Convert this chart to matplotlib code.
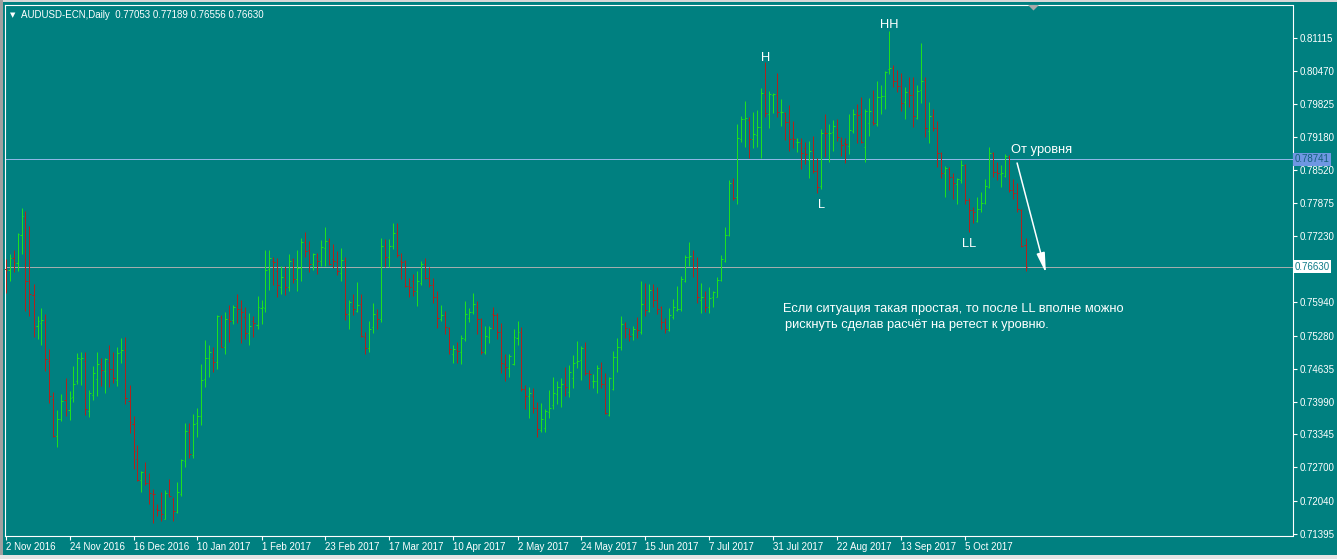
import numpy as np
import matplotlib
matplotlib.use("Agg")
import matplotlib.pyplot as plt
from matplotlib.collections import LineCollection
from matplotlib.patches import Polygon, Rectangle
import matplotlib.transforms as mtransforms

plt.rcParams['font.family'] = ['Liberation Sans', 'DejaVu Sans']

# AUDUSD-ECN daily bars, 2 Nov 2016 .. 27 Oct 2017
opens = [
    0.7658, 0.7657, 0.7680, 0.7670, 0.7725, 0.7758, 0.7635, 0.7608, 0.7547, 0.7552, 0.7554, 0.7478, 0.7404, 0.7331, 0.7364, 0.7402,
    0.7382, 0.7407, 0.7439, 0.7482, 0.7478, 0.7380, 0.7412, 0.7443, 0.7472, 0.7458, 0.7476, 0.7462, 0.7441, 0.7496, 0.7499, 0.7400,
    0.7355, 0.7286, 0.7245, 0.7260, 0.7239, 0.7218, 0.7188, 0.7186, 0.7169, 0.7218, 0.7208, 0.7182, 0.7217, 0.7282, 0.7339, 0.7294,
    0.7356, 0.7370, 0.7443, 0.7484, 0.7484, 0.7476, 0.7565, 0.7505, 0.7560, 0.7559, 0.7586, 0.7580, 0.7564, 0.7533, 0.7556, 0.7548,
    0.7582, 0.7582, 0.7658, 0.7674, 0.7654, 0.7623, 0.7644, 0.7623, 0.7678, 0.7639, 0.7660, 0.7712, 0.7696, 0.7668, 0.7682, 0.7674,
    0.7699, 0.7713, 0.7678, 0.7672, 0.7650, 0.7674, 0.7571, 0.7587, 0.7576, 0.7590, 0.7525, 0.7503, 0.7546, 0.7570, 0.7561, 0.7703,
    0.7682, 0.7704, 0.7729, 0.7674, 0.7674, 0.7625, 0.7635, 0.7615, 0.7631, 0.7669, 0.7641, 0.7627, 0.7603, 0.7560, 0.7566, 0.7544,
    0.7492, 0.7500, 0.7496, 0.7521, 0.7562, 0.7574, 0.7584, 0.7560, 0.7496, 0.7525, 0.7570, 0.7569, 0.7535, 0.7472, 0.7464, 0.7472,
    0.7523, 0.7535, 0.7423, 0.7410, 0.7410, 0.7386, 0.7343, 0.7348, 0.7378, 0.7392, 0.7413, 0.7427, 0.7433, 0.7417, 0.7445, 0.7476,
    0.7480, 0.7503, 0.7454, 0.7439, 0.7439, 0.7465, 0.7433, 0.7373, 0.7423, 0.7486, 0.7506, 0.7550, 0.7531, 0.7531, 0.7541, 0.7536,
    0.7590, 0.7576, 0.7618, 0.7598, 0.7584, 0.7554, 0.7539, 0.7564, 0.7579, 0.7581, 0.7635, 0.7682, 0.7679, 0.7660, 0.7598, 0.7602,
    0.7585, 0.7604, 0.7604, 0.7637, 0.7675, 0.7725, 0.7827, 0.7799, 0.7913, 0.7953, 0.7951, 0.7914, 0.7921, 0.7938, 0.8002, 0.7962,
    0.8000, 0.8000, 0.7966, 0.7964, 0.7946, 0.7916, 0.7907, 0.7905, 0.7895, 0.7872, 0.7892, 0.7850, 0.7821, 0.7926, 0.7925, 0.7927,
    0.7933, 0.7910, 0.7905, 0.7900, 0.7929, 0.7963, 0.7963, 0.7898, 0.7944, 0.7947, 0.7942, 0.7995, 0.7998, 0.8051, 0.8053, 0.8028,
    0.8017, 0.7987, 0.8006, 0.8000, 0.7955, 0.8010, 0.8029, 0.7929, 0.7959, 0.7935, 0.7886, 0.7846, 0.7855, 0.7840, 0.7825, 0.7833,
    0.7863, 0.7794, 0.7774, 0.7753, 0.7776, 0.7788, 0.7820, 0.7887, 0.7848, 0.7845, 0.7842, 0.7879, 0.7814, 0.7807, 0.7774, 0.77053]
highs = [
    0.7678, 0.7688, 0.7696, 0.7729, 0.7778, 0.7772, 0.7743, 0.7629, 0.7567, 0.7582, 0.7571, 0.7502, 0.7418, 0.7382, 0.7414, 0.7445,
    0.7420, 0.7469, 0.7494, 0.7497, 0.7497, 0.7422, 0.7469, 0.7497, 0.7485, 0.7484, 0.7510, 0.7496, 0.7505, 0.7524, 0.7525, 0.7431,
    0.7371, 0.7314, 0.7263, 0.7280, 0.7258, 0.7228, 0.7198, 0.7222, 0.7226, 0.7247, 0.7212, 0.7241, 0.7286, 0.7357, 0.7357, 0.7375,
    0.7386, 0.7473, 0.7520, 0.7510, 0.7505, 0.7569, 0.7569, 0.7575, 0.7588, 0.7588, 0.7610, 0.7598, 0.7584, 0.7573, 0.7567, 0.7606,
    0.7598, 0.7696, 0.7696, 0.7682, 0.7680, 0.7664, 0.7664, 0.7688, 0.7680, 0.7696, 0.7720, 0.7731, 0.7714, 0.7690, 0.7690, 0.7716,
    0.7741, 0.7720, 0.7708, 0.7694, 0.7700, 0.7682, 0.7598, 0.7609, 0.7633, 0.7609, 0.7535, 0.7557, 0.7592, 0.7580, 0.7720, 0.7717,
    0.7718, 0.7749, 0.7749, 0.7690, 0.7676, 0.7641, 0.7649, 0.7655, 0.7674, 0.7680, 0.7662, 0.7641, 0.7616, 0.7588, 0.7576, 0.7545,
    0.7510, 0.7516, 0.7529, 0.7596, 0.7582, 0.7612, 0.7596, 0.7562, 0.7547, 0.7547, 0.7584, 0.7573, 0.7552, 0.7492, 0.7492, 0.7541,
    0.7557, 0.7546, 0.7431, 0.7428, 0.7426, 0.7399, 0.7396, 0.7384, 0.7422, 0.7447, 0.7439, 0.7445, 0.7467, 0.7471, 0.7490, 0.7518,
    0.7508, 0.7516, 0.7461, 0.7452, 0.7471, 0.7476, 0.7454, 0.7447, 0.7498, 0.7524, 0.7567, 0.7555, 0.7544, 0.7547, 0.7564, 0.7635,
    0.7632, 0.7629, 0.7629, 0.7624, 0.7586, 0.7563, 0.7582, 0.7600, 0.7625, 0.7645, 0.7686, 0.7712, 0.7696, 0.7682, 0.7631, 0.7616,
    0.7624, 0.7616, 0.7643, 0.7686, 0.7742, 0.7833, 0.7838, 0.7943, 0.7959, 0.7988, 0.7957, 0.7966, 0.7970, 0.8013, 0.8065, 0.8008,
    0.8004, 0.8042, 0.7991, 0.7967, 0.7980, 0.7949, 0.7915, 0.7916, 0.7908, 0.7910, 0.7919, 0.7877, 0.7933, 0.7962, 0.7942, 0.7951,
    0.7952, 0.7917, 0.7915, 0.7962, 0.7973, 0.7982, 0.7995, 0.7972, 0.7993, 0.8010, 0.8028, 0.8019, 0.8047, 0.8125, 0.8059, 0.8049,
    0.8042, 0.8015, 0.8036, 0.8036, 0.8019, 0.8102, 0.8036, 0.7986, 0.7972, 0.7949, 0.7889, 0.7861, 0.7859, 0.7846, 0.7838, 0.7872,
    0.7864, 0.7797, 0.7781, 0.7799, 0.7810, 0.7835, 0.7897, 0.7889, 0.7869, 0.7863, 0.7884, 0.7882, 0.7835, 0.7827, 0.7776, 0.77189]
lows = [
    0.7612, 0.7636, 0.7652, 0.7655, 0.7689, 0.7577, 0.7567, 0.7525, 0.7522, 0.7510, 0.7459, 0.7397, 0.7330, 0.7310, 0.7361, 0.7371,
    0.7363, 0.7399, 0.7433, 0.7432, 0.7373, 0.7369, 0.7401, 0.7410, 0.7430, 0.7416, 0.7428, 0.7435, 0.7430, 0.7475, 0.7394, 0.7337,
    0.7266, 0.7243, 0.7222, 0.7236, 0.7198, 0.7160, 0.7175, 0.7164, 0.7168, 0.7211, 0.7164, 0.7180, 0.7214, 0.7271, 0.7289, 0.7289,
    0.7330, 0.7352, 0.7428, 0.7448, 0.7457, 0.7463, 0.7505, 0.7493, 0.7516, 0.7550, 0.7552, 0.7514, 0.7521, 0.7510, 0.7526, 0.7542,
    0.7550, 0.7575, 0.7618, 0.7627, 0.7604, 0.7610, 0.7608, 0.7616, 0.7631, 0.7616, 0.7635, 0.7682, 0.7653, 0.7657, 0.7648, 0.7665,
    0.7665, 0.7667, 0.7660, 0.7646, 0.7636, 0.7558, 0.7542, 0.7569, 0.7575, 0.7526, 0.7492, 0.7496, 0.7534, 0.7541, 0.7554, 0.7663,
    0.7662, 0.7697, 0.7682, 0.7639, 0.7623, 0.7603, 0.7606, 0.7586, 0.7627, 0.7639, 0.7623, 0.7592, 0.7544, 0.7557, 0.7532, 0.7493,
    0.7475, 0.7474, 0.7473, 0.7518, 0.7555, 0.7571, 0.7532, 0.7492, 0.7493, 0.7514, 0.7541, 0.7521, 0.7454, 0.7440, 0.7448, 0.7471,
    0.7510, 0.7420, 0.7384, 0.7367, 0.7376, 0.7329, 0.7339, 0.7339, 0.7367, 0.7385, 0.7395, 0.7389, 0.7409, 0.7407, 0.7425, 0.7465,
    0.7441, 0.7450, 0.7423, 0.7426, 0.7416, 0.7426, 0.7375, 0.7371, 0.7422, 0.7456, 0.7499, 0.7523, 0.7518, 0.7520, 0.7524, 0.7532,
    0.7567, 0.7575, 0.7585, 0.7570, 0.7541, 0.7534, 0.7538, 0.7561, 0.7577, 0.7577, 0.7634, 0.7665, 0.7644, 0.7592, 0.7572, 0.7575,
    0.7572, 0.7585, 0.7603, 0.7636, 0.7673, 0.7723, 0.7794, 0.7786, 0.7908, 0.7897, 0.7876, 0.7895, 0.7898, 0.7877, 0.7957, 0.7936,
    0.7965, 0.7957, 0.7939, 0.7912, 0.7891, 0.7895, 0.7889, 0.7855, 0.7865, 0.7838, 0.7846, 0.7807, 0.7815, 0.7879, 0.7868, 0.7890,
    0.7910, 0.7881, 0.7866, 0.7884, 0.7925, 0.7905, 0.7906, 0.7869, 0.7920, 0.7941, 0.7940, 0.7962, 0.7972, 0.8041, 0.8016, 0.8006,
    0.7969, 0.7953, 0.7976, 0.7938, 0.7953, 0.7985, 0.7918, 0.7906, 0.7930, 0.7858, 0.7837, 0.7799, 0.7814, 0.7795, 0.7786, 0.7828,
    0.7786, 0.7732, 0.7748, 0.7750, 0.7770, 0.7786, 0.7817, 0.7840, 0.7833, 0.7819, 0.7840, 0.7810, 0.7795, 0.7771, 0.7702, 0.76556]
closes = [
    0.7657, 0.7680, 0.7672, 0.7727, 0.7763, 0.7635, 0.7609, 0.7543, 0.7557, 0.7558, 0.7482, 0.7410, 0.7332, 0.7364, 0.7400, 0.7385,
    0.7405, 0.7433, 0.7484, 0.7484, 0.7384, 0.7415, 0.7454, 0.7472, 0.7460, 0.7482, 0.7462, 0.7446, 0.7494, 0.7499, 0.7405, 0.7358,
    0.7302, 0.7245, 0.7261, 0.7239, 0.7219, 0.7217, 0.7186, 0.7179, 0.7220, 0.7214, 0.7184, 0.7221, 0.7284, 0.7341, 0.7296, 0.7354,
    0.7370, 0.7441, 0.7484, 0.7497, 0.7476, 0.7567, 0.7505, 0.7560, 0.7557, 0.7584, 0.7580, 0.7574, 0.7533, 0.7547, 0.7552, 0.7584,
    0.7584, 0.7656, 0.7680, 0.7672, 0.7627, 0.7643, 0.7624, 0.7674, 0.7639, 0.7660, 0.7712, 0.7694, 0.7668, 0.7688, 0.7674, 0.7701,
    0.7713, 0.7669, 0.7674, 0.7655, 0.7676, 0.7570, 0.7594, 0.7580, 0.7588, 0.7527, 0.7503, 0.7541, 0.7570, 0.7561, 0.7703, 0.7682,
    0.7703, 0.7729, 0.7686, 0.7673, 0.7625, 0.7623, 0.7615, 0.7635, 0.7669, 0.7641, 0.7627, 0.7603, 0.7562, 0.7568, 0.7545, 0.7501,
    0.7501, 0.7498, 0.7523, 0.7570, 0.7574, 0.7590, 0.7560, 0.7497, 0.7527, 0.7543, 0.7569, 0.7535, 0.7474, 0.7466, 0.7488, 0.7525,
    0.7535, 0.7423, 0.7410, 0.7415, 0.7386, 0.7345, 0.7364, 0.7380, 0.7386, 0.7415, 0.7427, 0.7433, 0.7428, 0.7456, 0.7474, 0.7478,
    0.7503, 0.7454, 0.7452, 0.7440, 0.7465, 0.7433, 0.7377, 0.7445, 0.7486, 0.7506, 0.7550, 0.7544, 0.7527, 0.7541, 0.7539, 0.7590,
    0.7578, 0.7618, 0.7598, 0.7580, 0.7554, 0.7541, 0.7568, 0.7585, 0.7581, 0.7639, 0.7682, 0.7685, 0.7660, 0.7604, 0.7604, 0.7585,
    0.7601, 0.7614, 0.7637, 0.7678, 0.7725, 0.7827, 0.7797, 0.7915, 0.7953, 0.7955, 0.7914, 0.7923, 0.7938, 0.8003, 0.7964, 0.8002,
    0.8002, 0.7966, 0.7967, 0.7946, 0.7913, 0.7914, 0.7908, 0.7886, 0.7884, 0.7891, 0.7851, 0.7820, 0.7925, 0.7925, 0.7926, 0.7939,
    0.7918, 0.7902, 0.7903, 0.7931, 0.7963, 0.7961, 0.7908, 0.7969, 0.7968, 0.7944, 0.7995, 0.7998, 0.8045, 0.8053, 0.8028, 0.8017,
    0.7984, 0.8005, 0.8000, 0.7959, 0.8008, 0.8028, 0.7935, 0.7959, 0.7935, 0.7887, 0.7846, 0.7857, 0.7840, 0.7827, 0.7835, 0.7863,
    0.7794, 0.7774, 0.7771, 0.7776, 0.7788, 0.7821, 0.7887, 0.7848, 0.7846, 0.7846, 0.7881, 0.7814, 0.7808, 0.7776, 0.7704, 0.76630]

date_labels = ['2 Nov 2016', '24 Nov 2016', '16 Dec 2016', '10 Jan 2017', '1 Feb 2017',
               '23 Feb 2017', '17 Mar 2017', '10 Apr 2017', '2 May 2017', '24 May 2017',
               '15 Jun 2017', '7 Jul 2017', '31 Jul 2017', '22 Aug 2017', '13 Sep 2017',
               '5 Oct 2017']
date_step = 16
price_ticks = [0.81115, 0.80470, 0.79825, 0.79180, 0.78520, 0.77875, 0.77230,
               0.75940, 0.75280, 0.74635, 0.73990, 0.73345, 0.72700, 0.72040, 0.71395]
level_price = 0.78741
bid_price = 0.76630
header = 'AUDUSD-ECN,Daily  0.77053 0.77189 0.76556 0.76630'

BG = '#008080'
UP = '#1ee01e'
DOWN = '#b0231c'
W, H = 1337, 559

fig = plt.figure(figsize=(W / 100, H / 100), dpi=100, facecolor=BG)
ax = fig.add_axes([4.5 / W, 1 - 536 / H, (1292.5 - 4.5) / W, (536 - 5) / H])
ax.set_facecolor(BG)
ax.set_xlim(-0.25, 321.75)
ax.set_ylim(0.71354, 0.81762)

# OHLC bars: 1 px stems, 1 px open/close ticks
o, h, l, c = (np.array(v) for v in (opens, highs, lows, closes))
stems, ticks, stem_cols, tick_cols = [], [], [], []
for i in range(len(c)):
    col = UP if c[i] >= o[i] else DOWN
    stems.append([(i, l[i]), (i, h[i])])
    stem_cols.append(col)
    ticks += [[(i - 0.3, o[i]), (i, o[i])], [(i, c[i]), (i + 0.3, c[i])]]
    tick_cols += [col, col]
ax.add_collection(LineCollection(stems, colors=stem_cols, linewidths=0.72,
                                 antialiased=True, snap=True, capstyle='butt', zorder=3))
ax.add_collection(LineCollection(ticks, colors=tick_cols, linewidths=0.72,
                                 antialiased=True, snap=True, capstyle='butt', zorder=3))

# horizontal level and bid line
ax.axhline(level_price, color='#8fb6e6', lw=0.72, zorder=2)
ax.axhline(bid_price, color='#a3adad', lw=0.72, zorder=2)

# axes frame and ticks
for sp in ax.spines.values():
    sp.set_color('white')
    sp.set_linewidth(0.8)
ax.yaxis.tick_right()
ax.set_yticks(price_ticks)
ax.set_yticklabels([f'{p:.5f}' for p in price_ticks])
ax.set_xticks(np.arange(len(date_labels)) * date_step)
ax.set_xticklabels(date_labels, ha='left')
ax.tick_params(axis='both', colors='white', labelcolor='white', labelsize=7,
               direction='out', length=3, width=0.8)
ax.tick_params(axis='y', pad=2)
ax.tick_params(axis='x', pad=1.5)

# price boxes on the scale
bt = mtransforms.blended_transform_factory(ax.transAxes, ax.transData)
ax.text(1.0015, level_price, f'{level_price:.5f}', transform=bt, fontsize=7,
        color='#13617a', va='center', ha='left', clip_on=False,
        bbox=dict(boxstyle='square,pad=0.15', fc='#6f97e2', ec='none'))
ax.text(1.0015, bid_price, f'{bid_price:.5f}', transform=bt, fontsize=7,
        color='#0f7b88', va='center', ha='left', clip_on=False,
        bbox=dict(boxstyle='square,pad=0.15', fc='white', ec='none'))

# swing labels and comments
tk = dict(color='white', fontsize=9.3, va='baseline', ha='left', zorder=5)
ax.text(188.9, 0.80664, 'H', **tk)
ax.text(218.6, 0.81305, 'HH', **tk)
ax.text(203.1, 0.77789, 'L', **tk)
ax.text(239.25, 0.77019, 'LL', **tk)
ax.text(251.4, 0.78861, 'От уровня', **tk)
ax.text(194.45, 0.75751, 'Если ситуация такая простая, то после LL вполне можно', **tk)
ax.text(194.9, 0.75431, 'рискнуть сделав расчёт на ретест к уровню.', **tk)
ax.annotate('', xy=(260.1, 0.76509), xytext=(252.9, 0.78665),
            arrowprops=dict(arrowstyle='-|>,head_length=1.2,head_width=0.25',
                            color='white', lw=1.1, shrinkA=0, shrinkB=0), zorder=5)

# header text
fig.text(10 / W, 1 - 17.5 / H, '\u25bc', fontsize=5, color='white',
         family=['DejaVu Sans'], va='baseline')
fig.text(21 / W, 1 - 17.5 / H, header, fontsize=7, color='white', va='baseline')

# window edges and chart-shift marker
fig.patches.append(Rectangle((0, 1 - 2 / H), 1, 2 / H, transform=fig.transFigure,
                             fc='#d8d8d8', ec='none'))
fig.patches.append(Rectangle((0, 0), 2.5 / W, 1, transform=fig.transFigure,
                             fc='#a0a0a0', ec='none'))
fig.patches.append(Rectangle((0, 0), 1, 4 / H, transform=fig.transFigure,
                             fc='#e4e4e4', ec='none'))
fig.patches.append(Polygon([(1028 / W, 1 - 5 / H), (1039 / W, 1 - 5 / H),
                            (1033.5 / W, 1 - 10.5 / H)], closed=True,
                           transform=fig.transFigure, fc='#a8a8a8', ec='none'))

fig.savefig('out.png', dpi=100, facecolor=BG)
